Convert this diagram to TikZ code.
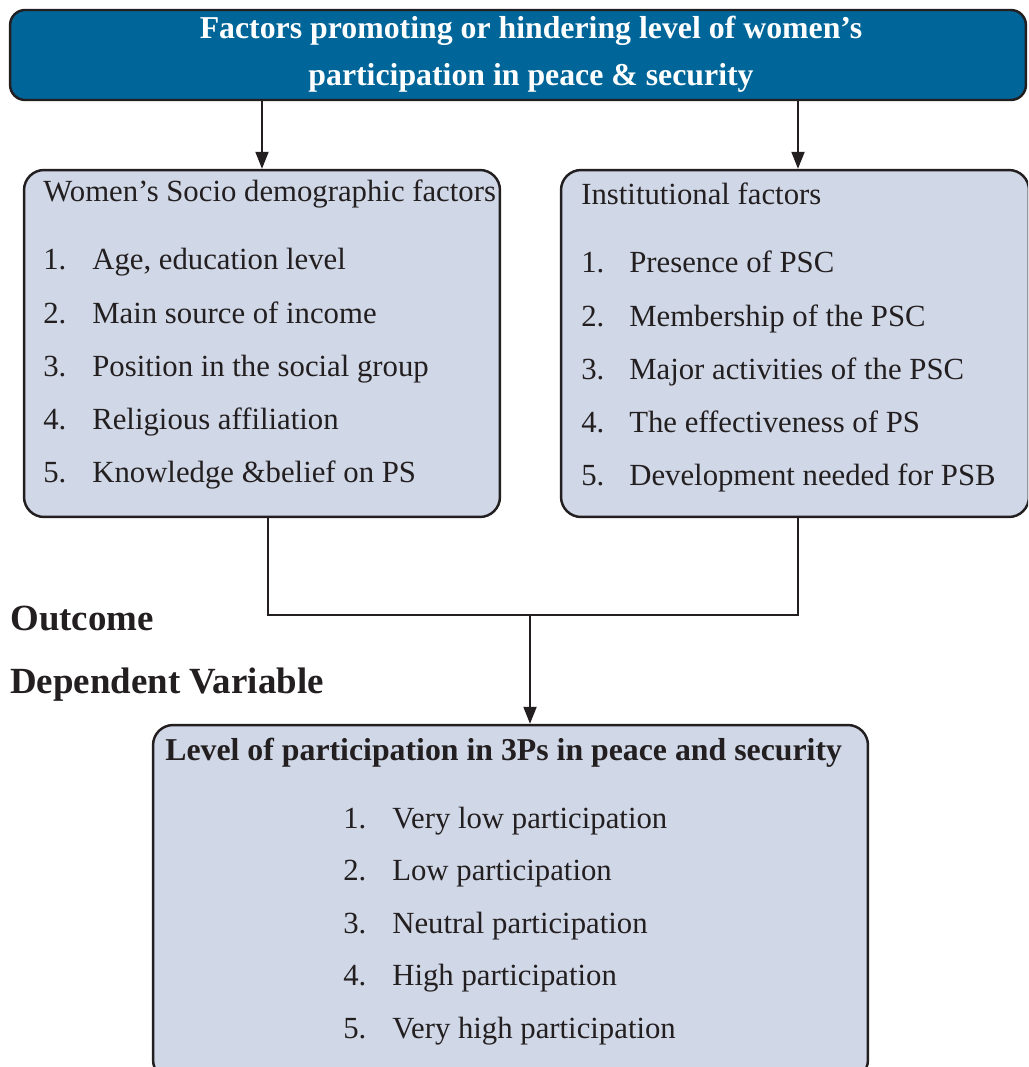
\documentclass[tikz,border=0pt]{standalone}
\usepackage{fontspec}
\setmainfont{Liberation Serif}
\usetikzlibrary{positioning,arrows.meta}

\definecolor{headblue}{RGB}{0,102,153}
\definecolor{factfill}{RGB}{208,215,230}
\definecolor{edge}{RGB}{35,31,32}

\begin{document}
\begin{tikzpicture}[
    x=0.02cm, y=-0.02cm,
    box/.style={
	draw=edge,
	line width=1.4pt,
	fill=factfill,
	rounded corners=0.4cm
    },
    headbox/.style={
	box,
	fill=headblue,
	rounded corners=0.3cm
    },
    txt/.style={
	anchor=base west,
	inner sep=0pt,
	text=edge,
	font=\fontsize{17.5}{20}\selectfont
    },
    boldtxt/.style={
	txt,
	font=\fontsize{18.1}{22}\selectfont\bfseries
    },
    link/.style={draw=edge, line width=1.1pt},
    >={Triangle[length=0.34cm,width=0.26cm]}
]
	\useasboundingbox (0,0) rectangle (1028,1067);
	\clip (0,0) rectangle (1028,1067);

	% boxes
	\node[headbox, minimum width=20.32cm, minimum height=1.8cm] (head) at (518,55) {};
	\node[box, minimum width=9.52cm, minimum height=6.94cm] (socio) at (262,343.5) {};
	\node[box, minimum width=9.36cm, minimum height=6.94cm] (inst) at (795,343.5) {};
	\node[box, minimum width=14.3cm, minimum height=7.1cm] (level) at (510.5,902.5) {};

	% title
	\node[boldtxt, anchor=base, text=white] (title1) at (531,39) {Factors promoting or hindering level of women's};
	\node[boldtxt, anchor=base, text=white] (title2) at (531,86) {participation in peace \& security};

	% Socio demographic factors
	\node[txt] (sociohead) at (43,202) {Women's Socio demographic factors};
	\node[txt] (socio1) at (43,270) {\makebox[0.98cm][l]{1.}Age, education level};
	\node[txt] (socio2) at (43,323) {\makebox[0.98cm][l]{2.}Main source of income};
	\node[txt] (socio3) at (43,376) {\makebox[0.98cm][l]{3.}Position in the social group};
	\node[txt] (socio4) at (43,429) {\makebox[0.98cm][l]{4.}Religious affiliation};
	\node[txt] (socio5) at (43,482) {\makebox[0.98cm][l]{5.}Knowledge \&belief on PS};

	% Institutional factors
	\node[txt] (insthead) at (581,205) {Institutional factors};
	\node[txt] (inst1) at (581,273) {\makebox[0.96cm][l]{1.}Presence of PSC};
	\node[txt] (inst2) at (581,326) {\makebox[0.96cm][l]{2.}Membership of the PSC};
	\node[txt] (inst3) at (581,379) {\makebox[0.96cm][l]{3.}Major activities of the PSC};
	\node[txt] (inst4) at (581,432) {\makebox[0.96cm][l]{4.}The effectiveness of PS};
	\node[txt] (inst5) at (581,485) {\makebox[0.96cm][l]{5.}Development needed for PSB};

	% Outcome
	\node[txt, font=\fontsize{21}{24}\selectfont\bfseries] (outcome) at (10,630) {Outcome};
	\node[txt, font=\fontsize{21}{24}\selectfont\bfseries] (depvar) at (10,693) {Dependent Variable};

	% Level of participation
	\node[boldtxt] (levelhead) at (165,760) {Level of participation in 3Ps in peace and security};
	\node[txt] (level1) at (343,828) {\makebox[0.98cm][l]{1.}Very low participation};
	\node[txt] (level2) at (343,880.5) {\makebox[0.98cm][l]{2.}Low participation};
	\node[txt] (level3) at (343,933) {\makebox[0.98cm][l]{3.}Neutral participation};
	\node[txt] (level4) at (343,985.5) {\makebox[0.98cm][l]{4.}High participation};
	\node[txt] (level5) at (343,1038) {\makebox[0.98cm][l]{5.}Very high participation};

	% head -> factors
	\draw[link,->] (socio.north |- head.south) -- (socio.north);
	\draw[link,->] ([xshift=0.06cm]inst.north |- head.south) -- ([xshift=0.06cm]inst.north);

	% factors -> level
	\coordinate (join) at (530,615);
	\draw[link] ([xshift=0.12cm]socio.south) |- (join);
	\draw[link] ([xshift=0.06cm]inst.south) |- (join);
	\draw[link,->] (join) -- (join |- level.north);
\end{tikzpicture}
\end{document}
